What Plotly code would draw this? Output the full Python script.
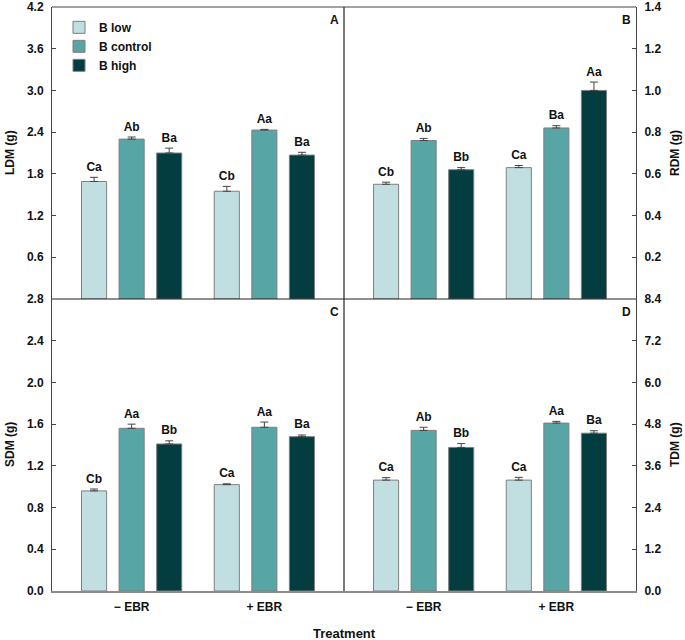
import plotly.graph_objects as go

# groups and series
groups = ["− EBR", "+ EBR"]
series = ["B low", "B control", "B high"]
colors = ["#c1dfe1", "#58a5a6", "#033d3f"]

# panel A - LDM
ldm = [[1.69, 1.55], [2.30, 2.43], [2.10, 2.07]]
ldm_err = [[0.06, 0.07], [0.03, 0.01], [0.07, 0.04]]
ldm_lbl = [["Ca", "Cb"], ["Ab", "Aa"], ["Ba", "Ba"]]

# panel B - RDM
rdm = [[0.55, 0.63], [0.76, 0.82], [0.62, 1.00]]
rdm_err = [[0.01, 0.01], [0.01, 0.011], [0.01, 0.04]]
rdm_lbl = [["Cb", "Ca"], ["Ab", "Ba"], ["Bb", "Aa"]]

# panel C - SDM
sdm = [[0.96, 1.02], [1.56, 1.57], [1.41, 1.48]]
sdm_err = [[0.018, 0.008], [0.04, 0.05], [0.03, 0.016]]
sdm_lbl = [["Cb", "Ca"], ["Aa", "Aa"], ["Bb", "Ba"]]

# panel D - TDM
tdm = [[3.19, 3.19], [4.62, 4.83], [4.13, 4.54]]
tdm_err = [[0.07, 0.08], [0.09, 0.05], [0.11, 0.07]]
tdm_lbl = [["Ca", "Ca"], ["Ab", "Aa"], ["Bb", "Ba"]]

panels = [
    (ldm, ldm_err, ldm_lbl, "x", "y"),
    (rdm, rdm_err, rdm_lbl, "x2", "y2"),
    (sdm, sdm_err, sdm_lbl, "x3", "y3"),
    (tdm, tdm_err, tdm_lbl, "x4", "y4"),
]

step = 0.283
bar_w = 0.189
font = "Liberation Sans, Arial, sans-serif"

fig = go.Figure()
for p, (vals, errs, lbls, xa, ya) in enumerate(panels):
    for k, name in enumerate(series):
        xs = [g + (k - 1) * step for g in range(len(groups))]
        fig.add_bar(
            x=xs, y=vals[k], width=bar_w, name=name,
            xaxis=xa, yaxis=ya, showlegend=(p == 0),
            marker=dict(color=colors[k], line=dict(color="#7f7f7f", width=1)),
            error_y=dict(type="data", array=errs[k], arrayminus=[0] * len(errs[k]),
                         symmetric=False, color="#444444", thickness=1, width=4),
        )
        fig.add_scatter(
            x=xs, y=[v + e for v, e in zip(vals[k], errs[k])],
            mode="markers+text", text=lbls[k], textposition="top center",
            marker=dict(size=4, opacity=0),
            textfont=dict(size=12, family=font, color="#111", weight="bold"),
            xaxis=xa, yaxis=ya, showlegend=False, hoverinfo="skip",
        )

tickfont = dict(size=12, family=font, color="#111", weight="bold")
xcommon = dict(range=[-0.6, 1.6], tickvals=[0, 1], ticktext=groups, ticks="",
               tickfont=tickfont, showgrid=False, zeroline=False, automargin=False,
               ticklabelstandoff=4)
ycommon = dict(showgrid=False, zeroline=False, ticks="inside", ticklen=4,
               tickcolor="#444", tickformat=".1f", tickfont=tickfont,
               showline=True, linecolor="#444", linewidth=1, automargin=False,
               ticklabeloverflow="allow", ticklabelstandoff=5)

fig.update_layout(
    width=685, height=640,
    margin=dict(l=52, r=49, t=7, b=49, autoexpand=False),
    plot_bgcolor="white", paper_bgcolor="white",
    barmode="overlay",
    font=dict(family=font, color="#111"),
    xaxis=dict(xcommon, domain=[0, 0.5], anchor="y", showticklabels=False),
    xaxis2=dict(xcommon, domain=[0.5, 1], anchor="y2", showticklabels=False),
    xaxis3=dict(xcommon, domain=[0, 0.5], anchor="y3",
                showline=True, linecolor="#8c8c8c", linewidth=1.5),
    xaxis4=dict(xcommon, domain=[0.5, 1], anchor="y4",
                showline=True, linecolor="#8c8c8c", linewidth=1.5),
    yaxis=dict(ycommon, domain=[0.5, 1], anchor="x", side="left", range=[0, 4.2],
               tickvals=[0.6, 1.2, 1.8, 2.4, 3.0, 3.6, 4.2]),
    yaxis2=dict(ycommon, domain=[0.5, 1], anchor="x2", side="right", range=[0, 1.4],
                tickvals=[0.2, 0.4, 0.6, 0.8, 1.0, 1.2, 1.4]),
    yaxis3=dict(ycommon, domain=[0, 0.5], anchor="x3", side="left", range=[0, 2.8],
                tickvals=[0, 0.4, 0.8, 1.2, 1.6, 2.0, 2.4, 2.8]),
    yaxis4=dict(ycommon, domain=[0, 0.5], anchor="x4", side="right", range=[0, 8.4],
                tickvals=[0, 1.2, 2.4, 3.6, 4.8, 6.0, 7.2, 8.4]),
    legend=dict(x=0.012, y=0.99, xanchor="left", yanchor="top",
                font=dict(size=12, family=font, color="#111", weight="bold"),
                bgcolor="rgba(0,0,0,0)", itemwidth=30, tracegroupgap=0),
    showlegend=True,
)

# frame lines: top border and the central cross
line_style = dict(color="#222", width=1.2)
fig.add_shape(type="line", xref="paper", yref="paper", x0=0, x1=1, y0=1, y1=1, line=dict(color="#444", width=1))
fig.add_shape(type="line", xref="paper", yref="paper", x0=0.5, x1=0.5, y0=0, y1=1, line=line_style)
fig.add_shape(type="line", xref="paper", yref="paper", x0=0, x1=1, y0=0.5, y1=0.5, line=line_style)

# panel letters
for letter, px_, py_ in [("A", 0.5, 1), ("B", 1, 1), ("C", 0.5, 0.5), ("D", 1, 0.5)]:
    fig.add_annotation(text=letter, xref="paper", yref="paper", x=px_, y=py_,
                       xanchor="right", yanchor="top", xshift=-3, yshift=-4,
                       showarrow=False, font=dict(size=12, family=font, color="#111", weight="bold"))

# axis titles
titles = [("LDM (g)", 0, 0.75, -42), ("SDM (g)", 0, 0.25, -42),
          ("RDM (g)", 1, 0.75, 39), ("TDM (g)", 1, 0.25, 39)]
for t, tx, ty, sh in titles:
    fig.add_annotation(text=t, xref="paper", yref="paper", x=tx, y=ty, xshift=sh,
                       xanchor="center", yanchor="middle",
                       textangle=-90, showarrow=False,
                       font=dict(size=12, family=font, color="#111", weight="bold"))
fig.add_annotation(text="Treatment", xref="paper", yref="paper", x=0.5, y=0,
                   yshift=-42, yanchor="middle", showarrow=False,
                   font=dict(size=13, family=font, color="#111", weight="bold"))

fig.write_html("out.html", config={"displayModeBar": False},
               post_script="document.body.style.margin='0';")
